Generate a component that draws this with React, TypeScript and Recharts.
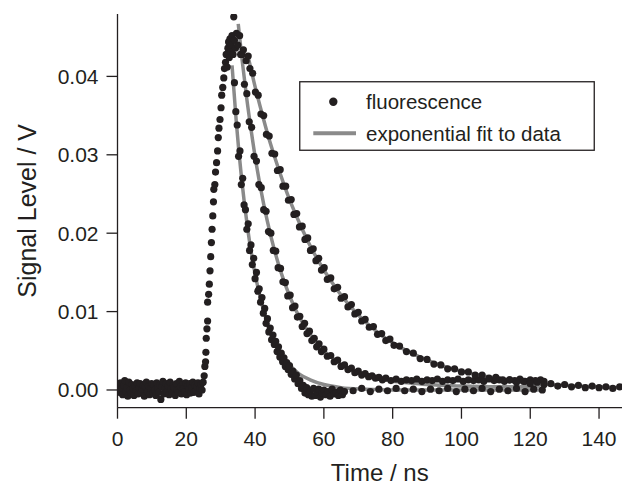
import React from 'react';
import { ComposedChart, Scatter, Line, XAxis, YAxis, Legend } from 'recharts';

type P = [number, number];

// time (ns), signal (V)
const baselineData: P[] = [
  [0.3,0.0004],[0.6,-0.0003],[0.9,0.0009],[1.2,0.0001],[1.5,-0.0006],[1.8,0.0006],[2.1,0.0012],[2.4,-0.0002],[2.7,0.0003],[3.0,-0.0008],
  [3.3,0.0010],[3.6,0.0000],[3.9,-0.0004],[4.2,0.0007],[4.5,0.0002],[4.8,-0.0007],[5.1,0.0005],[5.4,-0.0001],[5.7,0.0009],[6.0,-0.0005],
  [6.3,0.0003],[6.6,0.0008],[6.9,-0.0003],[7.2,0.0001],[7.5,0.0006],[7.8,-0.0008],[8.1,0.0004],[8.4,0.0010],[8.7,-0.0002],[9.0,0.0005],
  [9.3,-0.0006],[9.6,0.0002],[9.9,0.0008],[10.2,-0.0004],[10.5,0.0006],[10.8,0.0000],[11.1,-0.0007],[11.4,0.0009],[11.7,0.0003],[12.0,-0.0003],
  [12.3,0.0007],[12.6,-0.0012],[12.9,0.0004],[13.2,0.0011],[13.5,-0.0005],[13.8,0.0002],[14.1,0.0008],[14.4,-0.0002],[14.7,0.0005],[15.0,-0.0006],
  [15.3,0.0010],[15.6,0.0001],[15.9,-0.0004],[16.2,0.0006],[16.5,0.0003],[16.8,-0.0007],[17.1,0.0008],[17.4,0.0000],[17.7,-0.0003],[18.0,0.0011],
  [18.3,0.0004],[18.6,-0.0005],[18.9,0.0007],[19.2,0.0002],[19.5,-0.0002],[19.8,0.0009],[20.1,-0.0006],[20.4,0.0005],[20.7,0.0001],[21.0,0.0008],
  [21.3,-0.0004],[21.6,0.0003],[21.9,0.0010],[22.2,-0.0003],[22.5,0.0006],[22.8,-0.0001],[23.1,0.0004],[23.4,0.0009],[23.7,-0.0005],[24.0,0.0002],
  [24.3,0.0007],[24.6,0.0000],
];

const riseData: P[] = [
  [24.9,0.0010],[25.2,0.0018],[25.4,0.0030],[25.6,0.0036],[25.7,0.0048],[25.8,0.0066],[26.0,0.0078],[26.2,0.0088],[26.2,0.0112],[26.5,0.0122],
  [26.7,0.0135],[26.9,0.0152],[27.1,0.0170],[27.3,0.0188],[27.5,0.0205],[27.7,0.0222],[27.9,0.0240],[28.0,0.0256],[28.3,0.0262],[28.5,0.0278],
  [28.8,0.0290],[29.1,0.0305],[29.3,0.0322],[29.5,0.0334],[29.8,0.0345],[30.1,0.0360],[30.3,0.0376],[30.6,0.0386],[30.9,0.0398],[31.1,0.0410],
  [31.4,0.0418],[31.6,0.0428],[31.9,0.0412],[32.1,0.0436],[32.3,0.0444],[32.5,0.0424],[32.7,0.0448],[32.9,0.0432],[33.1,0.0440],[33.3,0.0452],
  [33.6,0.0428],[33.8,0.0476],[34.0,0.0446],[34.3,0.0436],[34.6,0.0455],
];

const fastDecay: P[] = [
  [34.0,0.0392],[34.4,0.0355],[34.8,0.0338],[35.2,0.0298],[35.6,0.0305],[36.0,0.0262],[36.4,0.0270],[36.8,0.0236],[37.2,0.0230],[37.6,0.0205],
  [38.0,0.0212],[38.4,0.0178],[38.8,0.0185],[39.2,0.0160],[39.6,0.0168],[40.0,0.0142],[40.4,0.0150],[40.8,0.0126],[41.2,0.0129],[41.6,0.0112],
  [42.0,0.0118],[42.4,0.0098],[42.8,0.0104],[43.2,0.0085],[43.6,0.0091],[44.0,0.0074],[44.4,0.0079],[44.8,0.0064],[45.2,0.0070],[45.6,0.0058],
  [46.0,0.0062],[46.4,0.0049],[46.8,0.0055],[47.2,0.0042],[47.6,0.0047],[48.0,0.0036],[48.4,0.0041],[48.8,0.0030],[49.2,0.0035],[49.6,0.0026],
  [50.0,0.0031],[50.5,0.0020],[51.0,0.0024],[51.5,0.0014],[52.0,0.0019],[52.5,0.0008],[53.0,0.0012],[53.5,0.0002],[54.0,0.0006],[54.5,-0.0004],
  [55.0,0.0003],[55.5,-0.0006],[56.0,-0.0001],[56.5,-0.0008],[57.0,0.0002],[57.5,-0.0007],[58.0,-0.0003],[58.5,0.0001],[59.0,-0.0009],[59.5,-0.0004],
  [60.0,0.0000],[60.6,-0.0006],[61.2,-0.0002],[61.8,-0.0008],[62.4,0.0001],[63.0,-0.0005],[63.6,-0.0003],[64.2,-0.0007],[64.8,0.0000],[65.4,-0.0006],
  [66.0,-0.0002],[68.5,-0.0001],[71,0.0002],[73.5,-0.0002],[76,0.0001],[78.5,-0.0001],[81,0.0002],[83.5,-0.0001],[86,0.0001],[88.5,-0.0002],
  [91,0.0001],[93.5,-0.0001],[96,0.0002],[98.5,-0.0002],[101,0.0001],[103.5,-0.0001],[106,0.0002],[108.5,-0.0002],[111,0.0001],[113.5,-0.0001],
  [116,0.0002],[118.5,-0.0002],[121,0.0001],[123.5,0.0000],
];

const mediumDecay: P[] = [
  [35.5,0.0452],[36.2,0.0428],[36.9,0.0390],[37.6,0.0378],[38.3,0.0342],[39.0,0.0335],[39.7,0.0298],[40.4,0.0292],[41.1,0.0262],[41.8,0.0258],
  [42.5,0.0230],[43.2,0.0228],[43.9,0.0202],[44.6,0.0200],[45.3,0.0178],[46.0,0.0177],[46.7,0.0156],[47.4,0.0155],[48.1,0.0138],[48.8,0.0137],
  [49.5,0.0120],[50.2,0.0121],[50.9,0.0105],[51.6,0.0107],[52.3,0.0093],[53.0,0.0094],[53.7,0.0081],[54.4,0.0085],[55.1,0.0072],[55.8,0.0075],
  [56.5,0.0063],[57.2,0.0066],[57.9,0.0055],[58.6,0.0059],[59.3,0.0049],[60.0,0.0052],[61.0,0.0043],[62.0,0.0044],[63.0,0.0036],[64.0,0.0038],
  [65.0,0.0030],[66.0,0.0032],[67.0,0.0026],[68.0,0.0028],[69.0,0.0022],[70.0,0.0024],[71.0,0.0019],[72.0,0.0021],[73.0,0.0017],[74.0,0.0018],
  [75.0,0.0015],[76.0,0.0016],[77.0,0.0013],[78.0,0.0015],[79.5,0.0012],[81,0.0014],[82.5,0.0011],[84,0.0013],[85.5,0.0012],[87,0.0014],
  [88.5,0.0011],[90,0.0013],[91.5,0.0012],[93,0.0014],[94.5,0.0011],[96,0.0013],[97.5,0.0012],[99,0.0014],[100.5,0.0011],[102,0.0013],
  [103.5,0.0012],[105,0.0013],[106.5,0.0011],[108,0.0014],[109.5,0.0012],[111,0.0013],[112.5,0.0011],[114,0.0013],[115.5,0.0012],[117,0.0014],
  [118.5,0.0011],[120,0.0013],[121.5,0.0012],[123,0.0013],[124,0.0011],
];

const slowDecay: P[] = [
  [35.0,0.0440],[35.8,0.0428],[36.6,0.0434],[37.4,0.0420],[38.0,0.0426],[38.5,0.0410],[39.3,0.0404],[40.1,0.0380],[40.9,0.0376],[41.7,0.0352],
  [42.5,0.0350],[43.3,0.0326],[44.1,0.0324],[44.9,0.0302],[45.7,0.0301],[46.5,0.0280],[47.3,0.0281],[48.1,0.0260],[48.9,0.0260],[49.7,0.0242],
  [50.5,0.0243],[51.3,0.0224],[52.1,0.0225],[52.9,0.0208],[53.7,0.0209],[54.5,0.0192],[55.3,0.0194],[56.1,0.0178],[56.9,0.0180],[57.7,0.0165],
  [58.5,0.0168],[59.3,0.0153],[60.1,0.0156],[61,0.0141],[62,0.0143],[63,0.0129],[64,0.0131],[65,0.0117],[66,0.0119],[67,0.0106],
  [68,0.0109],[69,0.0097],[70,0.0099],[71,0.0088],[72,0.0090],[73.2,0.0080],[74.4,0.0081],[75.6,0.0071],[76.8,0.0072],[78,0.0063],
  [79.2,0.0065],[80.4,0.0057],[82,0.0056],[84,0.0049],[86,0.0047],[88,0.0040],[90,0.0039],[92,0.0033],[94,0.0032],[96,0.0027],
  [98,0.0027],[100,0.0023],[102,0.0023],[104,0.0019],[106,0.0019],[108,0.0015],[110,0.0016],[112,0.0013],[114,0.0013],[116,0.0010],
  [118,0.0011],[120,0.0008],[122,0.0010],[124,0.0007],[126,0.0008],[128,0.0005],[130,0.0007],[132,0.0004],[134,0.0006],[136,0.0003],
  [138,0.0005],[140,0.0003],[142,0.0004],[144,0.0002],[146,0.0004],[148,0.0002],
];

const fastFit: P[] = [
  [33.3,0.0414],[34.5,0.0344],[36,0.0273],[38,0.0201],[40,0.0148],[42,0.0109],[44,0.0080],[46,0.0059],[48,0.0043],[50,0.0032],
  [53,0.0020],[56,0.0013],[60,0.0007],[65,0.0003],[72,0.0001],[80,0],[95,0],[110,0],[123,0],
];

const mediumFit: P[] = [
  [35.1,0.0467],[36.2,0.0422],[37.6,0.0371],[39,0.0327],[40.4,0.0287],[42.5,0.0237],[44.6,0.0196],[46.7,0.0162],[48.8,0.0134],[50.9,0.0111],
  [53,0.0092],[55.1,0.0077],[57.9,0.0060],[60,0.0050],[63,0.0039],[66,0.0030],[70,0.0022],[74,0.0017],[80,0.0011],[85,0.0009],
  [90,0.0007],[100,0.0005],[110,0.0004],[123,0.0004],
];

const slowFit: P[] = [
  [38.1,0.0423],[40,0.0387],[42,0.0353],[44,0.0321],[46,0.0293],[48,0.0267],[50,0.0243],[53,0.0212],[56,0.0184],[60,0.0153],
  [64,0.0127],[68,0.0105],[72,0.0087],[77,0.0069],[82,0.0055],[88,0.0042],[95,0.0030],[102,0.0022],[110,0.0015],[118,0.0010],
  [126,0.0007],[134,0.0005],[142,0.00034],[149,0.00024],
];

const xTicks = [0, 20, 40, 60, 80, 100, 120, 140];
const yTicks = [0, 0.01, 0.02, 0.03, 0.04];

const toPts = (a: P[]) => a.map(([t, v]) => ({ t, v }));
const scatterPts = toPts([...baselineData, ...riseData, ...fastDecay, ...mediumDecay, ...slowDecay]);

const FONT = '"Liberation Sans", Arial, Helvetica, sans-serif';
const INK = '#231f20';
const FIT = '#8a8a8a';

const DotShape = (props: any) => <circle cx={props.cx} cy={props.cy} r={3.6} fill={INK} />;

const LegendBox = () => (
  <svg width={296} height={70} style={{ display: 'block', fontFamily: FONT }}>
    <rect x={0.75} y={0.75} width={294.5} height={68.5} fill="#fff" stroke={INK} strokeWidth={1.3} />
    <circle cx={34.3} cy={20.7} r={4.2} fill={INK} />
    <text x={67} y={20.7} dominantBaseline="central" fontSize={20.5} fill={INK}>fluorescence</text>
    <line x1={14.3} x2={57} y1={52.3} y2={52.3} stroke={FIT} strokeWidth={4} />
    <text x={67} y={52.3} dominantBaseline="central" fontSize={20.5} fill={INK}>exponential fit to data</text>
  </svg>
);

const XTitle = (p: any) => {
  const vb = p.viewBox;
  return (
    <text x={vb.x + vb.width / 2 + 6} y={vb.y + 73} textAnchor="middle" fontSize={24} fill={INK} fontFamily={FONT}>
      Time / ns
    </text>
  );
};

const YTitle = (p: any) => {
  const vb = p.viewBox;
  const cx = vb.x + 19;
  const cy = vb.y + vb.height / 2;
  return (
    <text x={cx} y={cy} transform={`rotate(-90, ${cx}, ${cy})`} textAnchor="middle" dominantBaseline="central" fontSize={25} fill={INK} fontFamily={FONT}>
      Signal Level / V
    </text>
  );
};

export default function App() {
  return (
    <div style={{ width: 622, height: 477, fontFamily: FONT }}>
      <ComposedChart width={622} height={477} margin={{ top: 6, right: 0, bottom: 0, left: 0 }}>
        <XAxis
          type="number"
          dataKey="t"
          domain={[0, 149]}
          ticks={xTicks}
          allowDataOverflow
          height={77.3}
          tickSize={11}
          tickMargin={12}
          stroke={INK}
          strokeWidth={1.3}
          tick={{ fill: INK, fontSize: 21, fontFamily: FONT }}
          tickLine={{ stroke: INK, strokeWidth: 1.3 }}
          label={<XTitle />}
        />
        <YAxis
          type="number"
          dataKey="v"
          domain={[-0.00226, 0.04796]}
          ticks={yTicks}
          allowDataOverflow
          width={109.5}
          tickSize={11}
          tickMargin={8}
          stroke={INK}
          strokeWidth={1.3}
          tickFormatter={(v: number) => v.toFixed(2)}
          tick={{ fill: INK, fontSize: 21, fontFamily: FONT }}
          tickLine={{ stroke: INK, strokeWidth: 1.3 }}
          label={<YTitle />}
        />
        <Scatter name="fluorescence" data={scatterPts} dataKey="v" shape={DotShape} isAnimationActive={false} />
        <Line name="fast fit" data={toPts(fastFit)} dataKey="v" type="monotone" stroke={FIT} strokeWidth={3.5} dot={false} activeDot={false} isAnimationActive={false} />
        <Line name="medium fit" data={toPts(mediumFit)} dataKey="v" type="monotone" stroke={FIT} strokeWidth={3.5} dot={false} activeDot={false} isAnimationActive={false} />
        <Line name="slow fit" data={toPts(slowFit)} dataKey="v" type="monotone" stroke={FIT} strokeWidth={3.5} dot={false} activeDot={false} isAnimationActive={false} />
        <Legend
          verticalAlign="middle"
          align="center"
          wrapperStyle={{ position: 'absolute', left: 291, top: 73, width: 296, height: 70 }}
          content={<LegendBox />}
        />
      </ComposedChart>
    </div>
  );
}
